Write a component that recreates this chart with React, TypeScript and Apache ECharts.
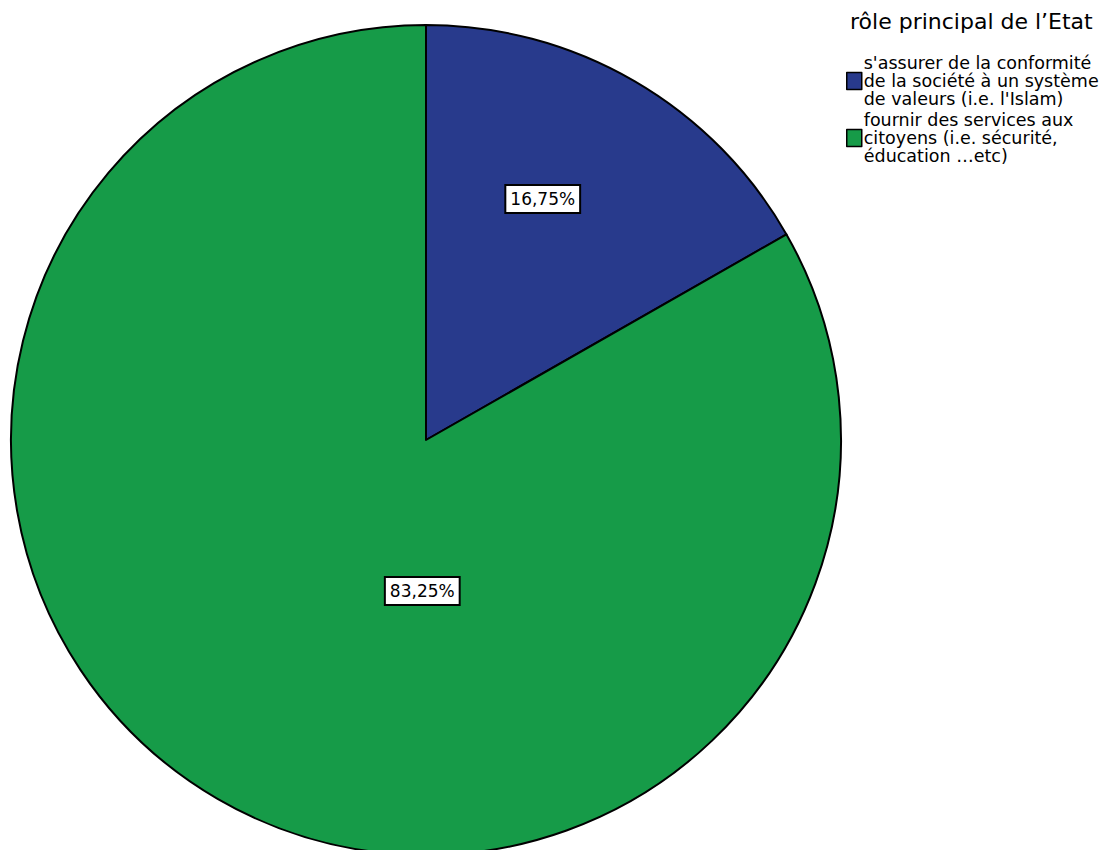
import React, { useEffect, useRef } from "react";
import * as echarts from "echarts";

const legendTitle = "rôle principal de l’Etat";
const categories = [
  "s'assurer de la conformité\nde la société à un système\nde valeurs (i.e. l'Islam)",
  "fournir des services aux\ncitoyens (i.e. sécurité,\néducation …etc)",
];
const values = [16.75, 83.25];
const colors = ["#283A8C", "#169B48"];
const labelOffsets = [
  [11, -59],
  [102, -31],
];

export default function App() {
  const ref = useRef<HTMLDivElement>(null);
  useEffect(() => {
    document.body.style.margin = "0";
    const chart = echarts.init(ref.current!, undefined, { renderer: "svg" });
    const font = "DejaVu Sans";
    chart.setOption({
      animation: false,
      backgroundColor: "#ffffff",
      title: {
        text: legendTitle,
        left: 845,
        top: 5,
        textStyle: { fontFamily: font, fontSize: 22, fontWeight: "normal", color: "#000" },
      },
      legend: {
        orient: "vertical",
        left: 841,
        top: 49,
        itemWidth: 15,
        itemHeight: 17,
        itemGap: 3,
        icon: "rect",
        selectedMode: false,
        itemStyle: { borderColor: "#000", borderWidth: 1.5 },
        textStyle: { fontFamily: font, fontSize: 17.5, lineHeight: 18, color: "#000", padding: [0, 0, 0, -3] },
        data: categories,
      },
      series: [
        {
          type: "pie",
          center: [426, 440],
          radius: 415,
          startAngle: 90,
          clockwise: true,
          silent: true,
          itemStyle: { borderColor: "#000", borderWidth: 2 },
          labelLine: { show: false },
          data: categories.map((name, i) => ({
            name,
            value: values[i],
            itemStyle: { color: colors[i] },
            label: {
              show: true,
              position: "inside",
              offset: labelOffsets[i],
              formatter: () => values[i].toFixed(2).replace(".", ",") + "%",
              fontFamily: font,
              fontSize: 17,
              color: "#000",
              backgroundColor: "#fff",
              borderColor: "#000",
              borderWidth: 2,
              padding: [5, 4, 4, 4],
            },
          })),
        },
      ],
    });
    return () => chart.dispose();
  }, []);
  return <div ref={ref} style={{ width: 1108, height: 850 }} />;
}
